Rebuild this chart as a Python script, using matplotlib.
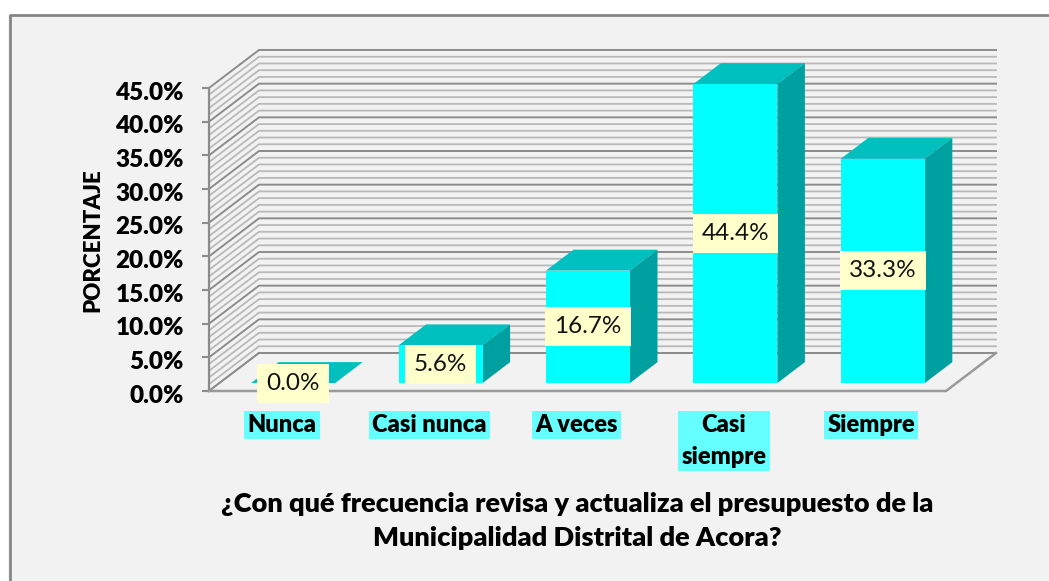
import matplotlib
matplotlib.use('Agg')
from matplotlib import pyplot as plt
from matplotlib.patches import Polygon, Rectangle
from matplotlib.transforms import ScaledTranslation

categories = ['Nunca', 'Casi nunca', 'A veces', 'Casi\nsiempre', 'Siempre']
values = [0.0, 5.6, 16.7, 44.4, 33.3]
y_ticks = [0, 5, 10, 15, 20, 25, 30, 35, 40, 45]
y_title = 'PORCENTAJE'
x_title = '¿Con qué frecuencia revisa y actualiza el presupuesto de la\nMunicipalidad Distrital de Acora?'

W, H = 1049, 581
plt.rcParams['font.family'] = ['Lato', 'DejaVu Sans']

fig = plt.figure(figsize=(W / 100, H / 100), dpi=100, facecolor='white')
fig.add_artist(Rectangle((8 / W, 0), (W - 8) / W, (H - 15) / H, transform=fig.transFigure,
                         facecolor='#f2f2f2', edgecolor='none', zorder=-5))
# borde superior e izquierdo
fig.add_artist(plt.Line2D([9.5 / W, 9.5 / W, 1], [0, 1 - 15 / H, 1 - 15 / H], color='#868686', lw=2, zorder=-4))

# plano frontal del grafico en pixeles: x 209-946, y 88-391
ax = fig.add_axes([209 / W, 1 - 391 / H, 737 / W, 303 / H])
ax.set_xlim(0, 5)
ax.set_ylim(0, 45)
ax.patch.set_visible(False)
for s in ax.spines.values():
    s.set_visible(False)

# profundidad (oblicua) en unidades de datos
DX = 50 / 147.4
DY = 38 / 6.733


def pr(x, y, d):
    return x + d * DX, y + d * DY


# rejilla: menores cada 1%, mayores cada 5%
for v in range(0, 46):
    major = v % 5 == 0
    col = '#8c8c8c' if major else '#b9b9b9'
    lw = 1.4 if major else 1.3
    p0, p1, p2 = pr(0, v, 0), pr(0, v, 1), pr(5, v, 1)
    ax.plot([p0[0], p1[0], p2[0]], [p0[1], p1[1], p2[1]], color=col, lw=lw, clip_on=False,
            solid_joinstyle='miter', zorder=1)

# pared izquierda y suelo
ax.plot([0, 0], [0, 45], color='#8c8c8c', lw=1.6, clip_on=False, zorder=2)
floor = [pr(0, 0, 0), pr(5, 0, 0), pr(5, 0, 1), pr(0, 0, 1)]
ax.add_patch(Polygon(floor, closed=True, facecolor='#f2f2f2', edgecolor='none', clip_on=False, zorder=2))
ax.plot([p[0] for p in floor[:3]], [p[1] for p in floor[:3]], color='#9a9a9a', lw=1.8, clip_on=False, zorder=3)
ax.plot([floor[3][0], floor[2][0]], [floor[3][1], floor[2][1]], color='#8c8c8c', lw=1.4, clip_on=False, zorder=2)
ax.plot([floor[0][0], floor[3][0]], [floor[0][1], floor[3][1]], color='#8c8c8c', lw=1.4, clip_on=False, zorder=2)

# barras
d0, d1 = 0.21, 0.76
half = 0.285
for i, v in enumerate(values):
    xl, xr = i + 0.5 - half, i + 0.5 + half
    top = [pr(xl, v, d0), pr(xr, v, d0), pr(xr, v, d1), pr(xl, v, d1)]
    ax.add_patch(Polygon(top, closed=True, facecolor='#00bfbf', edgecolor='none', clip_on=False, zorder=4))
    if v > 0:
        side = [pr(xr, 0, d0), pr(xr, v, d0), pr(xr, v, d1), pr(xr, 0, d1)]
        ax.add_patch(Polygon(side, closed=True, facecolor='#00a0a0', edgecolor='none', clip_on=False, zorder=4))
        front = [pr(xl, 0, d0), pr(xr, 0, d0), pr(xr, v, d0), pr(xl, v, d0)]
        ax.add_patch(Polygon(front, closed=True, facecolor='#00ffff', edgecolor='none', clip_on=False, zorder=5))

    # etiqueta de datos, centrada en la cara frontal
    lx, ly = pr(i + 0.5, v / 2, d0)
    ax.text(lx, ly, '%.1f%%' % v, ha='center', va='center', fontsize=17.5, color='#111111', zorder=7,
            bbox=dict(boxstyle='square,pad=0.37', facecolor='#ffffcc', edgecolor='none'))

    # categoria
    ax.annotate(categories[i], xy=(i + 0.5, 0), xytext=(-1, -23), textcoords='offset pixels',
                ha='center', va='top', multialignment='center', fontsize=17, fontweight='heavy', color='black',
                linespacing=1.56, zorder=7,
                bbox=dict(boxstyle='square,pad=0.14', facecolor='#66ffff', edgecolor='none'))

# eje y
ax.set_yticks(y_ticks)
ax.set_yticklabels(['%.1f%%' % t for t in y_ticks], fontsize=17.5, fontweight='heavy', color='black')
ax.set_xticks([])
ax.tick_params(axis='y', length=5, width=1.5, color='#8c8c8c', pad=13)
shift = ScaledTranslation(0, -2 / 72, fig.dpi_scale_trans)
for lab in ax.get_yticklabels():
    lab.set_transform(lab.get_transform() + shift)

fig.text(93 / W, 1 - 240 / H, y_title, rotation=90, ha='center', va='center', fontsize=16, fontweight='heavy')
fig.text(577 / W, 1 - 521 / H, x_title, ha='center', va='center', multialignment='center',
         fontsize=19.5, fontweight='heavy', linespacing=1.47)

fig.savefig('out.png', dpi=100, facecolor='white')
